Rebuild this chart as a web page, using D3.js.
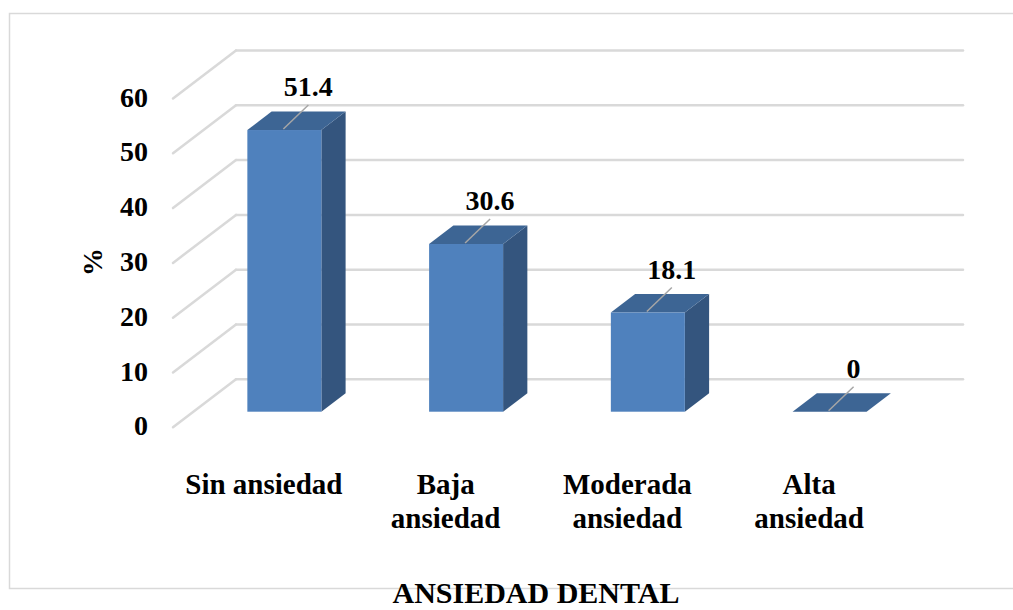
<!DOCTYPE html>
<html lang="es">
<head>
<meta charset="utf-8">
<script src="https://d3js.org/d3.v7.min.js"></script>
<style>
  body { margin: 0; background: #fff; }
  text { font-family: "Liberation Serif", "Times New Roman", serif; font-weight: bold; fill: #000; }
</style>
<title>Ansiedad dental</title>
</head>
<body>
<script>
// datos
var categorias = ["Sin ansiedad", "Baja ansiedad", "Moderada ansiedad", "Alta ansiedad"];
var valores = [51.4, 30.6, 18.1, 0];
var ticksY = [0, 10, 20, 30, 40, 50, 60];
var tituloX = "ANSIEDAD DENTAL";
var tituloY = "%";

var w = 1013, h = 610;

// pared del fondo y profundidad del piso
var wallLeft = 236, wallRight = 963;
var depthX = -63, depthY = 48;   // del fondo al frente
var barFront = 0.675, barBack = 0.29; // fraccion de profundidad

var svg = d3.select("body").append("svg")
  .attr("width", w)
  .attr("height", h);

// borde del area del grafico
svg.append("rect")
  .attr("x", 9.5).attr("y", 13.5)
  .attr("width", 1020).attr("height", 575)
  .attr("fill", "none")
  .attr("stroke", "#d9d9d9")
  .attr("stroke-width", 1.5);

var y = d3.scaleLinear().domain([0, 60]).range([379.3, 50.5]);
var x = d3.scaleBand().domain(categorias).range([wallLeft, wallRight]).padding(0);
var barW = 74;

// rejilla: pared + diagonal del piso
var grid = svg.append("g");
ticksY.forEach(function(t) {
  grid.append("line")
    .attr("x1", wallLeft).attr("x2", wallRight)
    .attr("y1", y(t)).attr("y2", y(t))
    .attr("stroke", "#d9d9d9").attr("stroke-width", 2.5)
    .attr("stroke-linecap", "round");
  grid.append("line")
    .attr("x1", wallLeft).attr("y1", y(t))
    .attr("x2", wallLeft + depthX).attr("y2", y(t) + depthY)
    .attr("stroke", "#d9d9d9").attr("stroke-width", 2.5)
    .attr("stroke-linecap", "round");
});

// etiquetas del eje Y (en el borde frontal)
svg.append("g").selectAll("text")
  .data(ticksY)
  .enter()
  .append("text")
  .attr("x", wallLeft + depthX - 25)
  .attr("y", function(d) { return y(d) + depthY + 8; })
  .attr("text-anchor", "end")
  .style("font-size", "28px")
  .text(function(d) { return d; });

svg.append("text")
  .attr("transform", "translate(102,262) rotate(-90)")
  .attr("text-anchor", "middle")
  .style("font-size", "28px")
  .text(tituloY);

// barras 3D
function pt(px, py) { return px + "," + py; }

var barras = svg.append("g");
categorias.forEach(function(c, i) {
  var v = valores[i];
  var x0 = x(c) + (x.bandwidth() - barW) / 2;
  var fx = x0 + depthX * barFront, fy = depthY * barFront;
  var bx = x0 + depthX * barBack, by = depthY * barBack;
  var yTop = y(v), y0 = y(0);

  // cara lateral
  barras.append("polygon")
    .attr("points", [pt(fx + barW, y0 + fy), pt(fx + barW, yTop + fy), pt(bx + barW, yTop + by), pt(bx + barW, y0 + by)].join(" "))
    .attr("fill", "#34557e");
  // cara superior
  barras.append("polygon")
    .attr("points", [pt(fx, yTop + fy), pt(fx + barW, yTop + fy), pt(bx + barW, yTop + by), pt(bx, yTop + by)].join(" "))
    .attr("fill", "#3d6594");
  // cara frontal
  barras.append("rect")
    .attr("x", fx).attr("y", yTop + fy)
    .attr("width", barW).attr("height", y0 - yTop)
    .attr("fill", "#4f81bd");

  // etiqueta de datos con linea guia
  var cx = fx + barW / 2, ty = yTop + fy;
  barras.append("line")
    .attr("x1", cx - 1).attr("y1", ty - 1)
    .attr("x2", cx + 24).attr("y2", ty - 25)
    .attr("stroke", "#a6a6a6").attr("stroke-width", 1.5);
  barras.append("text")
    .attr("x", cx + 24).attr("y", ty - 34)
    .attr("text-anchor", "middle")
    .style("font-size", "28px")
    .text(v);
});

// etiquetas de categorias (borde frontal del piso)
var cats = svg.append("g").selectAll("text")
  .data(categorias)
  .enter()
  .append("text")
  .attr("x", function(d) { return x(d) + x.bandwidth() / 2 + depthX; })
  .attr("y", 494)
  .attr("text-anchor", "middle")
  .style("font-size", "29px")
  .text(function(d) { return d; });

cats.each(function() {
  var t = d3.select(this);
  var palabras = t.text().split(" ");
  var xx = t.attr("x");
  if (this.getComputedTextLength() <= 166) return;
  t.text(null);
  var linea = [];
  var tspan = t.append("tspan").attr("x", xx).attr("dy", 0);
  palabras.forEach(function(p) {
    linea.push(p);
    tspan.text(linea.join(" "));
    if (tspan.node().getComputedTextLength() > 166 && linea.length > 1) {
      linea.pop();
      tspan.text(linea.join(" "));
      linea = [p];
      tspan = t.append("tspan").attr("x", xx).attr("dy", 34).text(p);
    }
  });
});

svg.append("text")
  .attr("x", 536)
  .attr("y", 603)
  .attr("text-anchor", "middle")
  .style("font-size", "30px")
  .text(tituloX);
</script>
</body>
</html>
